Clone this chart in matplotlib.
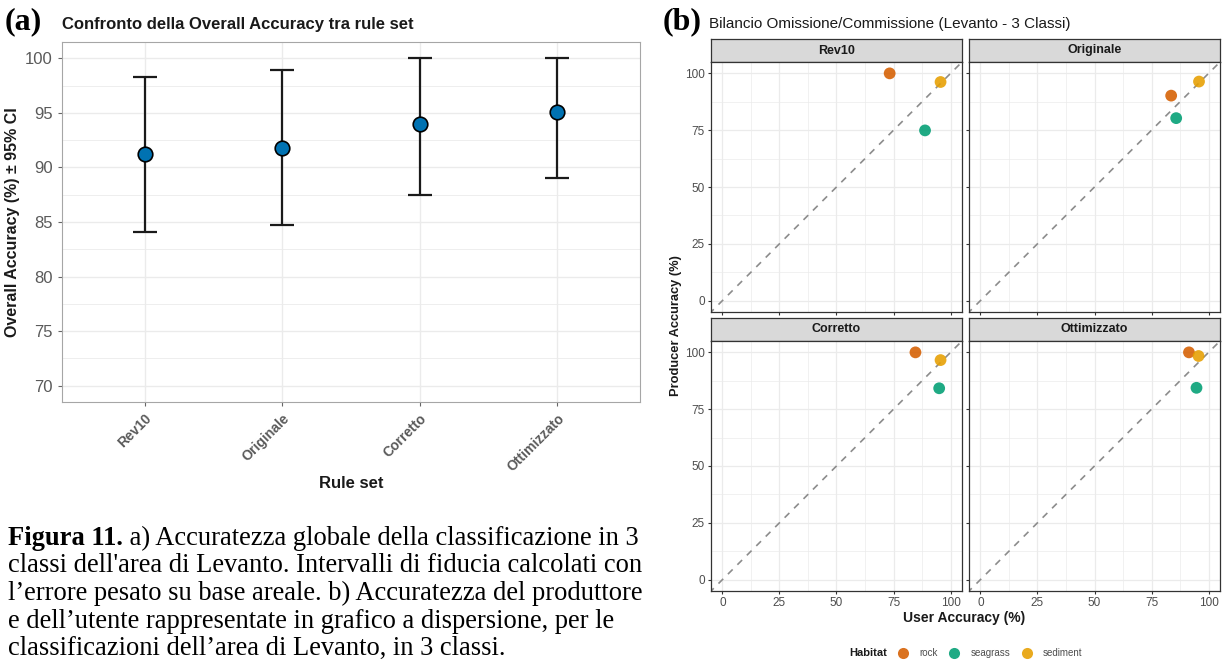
import matplotlib
matplotlib.use("Agg")
import numpy as np
from matplotlib import pyplot as plt
from matplotlib.lines import Line2D

# ---- data: panel (a) overall accuracy with 95% CI
rule_sets = ["Rev10", "Originale", "Corretto", "Ottimizzato"]
oa = [91.2, 91.8, 94.0, 95.1]
ci_low = [84.1, 84.7, 87.5, 89.0]
ci_high = [98.3, 98.9, 100.0, 100.0]

# ---- data: panel (b) user / producer accuracy per habitat
habitats = ["rock", "seagrass", "sediment"]
habitat_colors = ["#D55E00", "#009E73", "#E69F00"]
facets = ["Rev10", "Originale", "Corretto", "Ottimizzato"]
user_acc = {
    "Rev10": [73.3, 88.8, 95.6],
    "Originale": [83.6, 85.8, 95.8],
    "Corretto": [84.6, 95.0, 95.6],
    "Ottimizzato": [91.4, 94.7, 95.6],
}
prod_acc = {
    "Rev10": [100.0, 74.9, 96.2],
    "Originale": [90.2, 80.3, 96.4],
    "Corretto": [100.0, 84.2, 96.6],
    "Ottimizzato": [100.0, 84.4, 98.4],
}

caption_bold = "Figura 11."
caption_lines = [
    " a) Accuratezza globale della classificazione in 3",
    "classi dell'area di Levanto. Intervalli di fiducia calcolati con",
    "l\u2019errore pesato su base areale. b) Accuratezza del produttore",
    "e dell\u2019utente rappresentate in grafico a dispersione, per le",
    "classificazioni dell\u2019area di Levanto, in 3 classi.",
]

W, H = 1222, 661
plt.rcParams["font.family"] = ["Liberation Sans", "DejaVu Sans"]
fig = plt.figure(figsize=(W / 100, H / 100), dpi=100)
fig.patch.set_facecolor("white")


def px_axes(l, t, r, b):
    return fig.add_axes([l / W, 1 - b / H, (r - l) / W, (b - t) / H])


def fx(x):
    return x / W


def fy(y):
    return 1 - y / H


GRID = "#EBEBEB"
BORDER = "#A6A6A6"
TICK_TXT = "#5A5A5A"

# ================= panel (a)
ax = px_axes(62, 42, 640, 402)
xpos = np.arange(1, len(rule_sets) + 1)
yerr = [np.array(oa) - np.array(ci_low), np.array(ci_high) - np.array(oa)]
ax.errorbar(xpos, oa, yerr=yerr, fmt="none", ecolor="#1A1A1A", elinewidth=1.6,
            capsize=8.5, capthick=1.6, zorder=3)
ax.scatter(xpos, oa, s=110, facecolor="#0072B2", edgecolor="black",
           linewidth=1.2, zorder=4)
ax.set_xlim(0.4, 4.6)
ax.set_ylim(68.5, 101.5)
ax.set_yticks(np.arange(70, 101, 5))
ax.set_yticks(np.arange(72.5, 100, 5), minor=True)
ax.set_xticks(xpos)
ax.set_xticklabels(rule_sets, rotation=45, ha="right", rotation_mode="anchor",
                   fontsize=10, fontweight="bold", color=TICK_TXT)
ax.tick_params(axis="y", labelsize=12, labelcolor=TICK_TXT, color="#666666", length=3)
ax.tick_params(axis="x", color="#666666", length=3)
ax.tick_params(which="minor", length=0)
ax.grid(True, which="major", color=GRID, lw=1.0)
ax.grid(True, which="minor", axis="y", color=GRID, lw=0.6)
ax.set_axisbelow(True)
for sp in ax.spines.values():
    sp.set_color(BORDER)
ax.set_ylabel("Overall Accuracy (%) \u00b1 95% CI", fontsize=11.5, fontweight="bold",
              color="#1A1A1A", labelpad=4)
ax.set_xlabel("Rule set", fontsize=12, fontweight="bold", color="#1A1A1A", labelpad=2)
fig.text(fx(62), fy(25), "Confronto della Overall Accuracy tra rule set",
         fontsize=12, fontweight="bold", va="center", ha="left", color="#1A1A1A")
fig.text(fx(5), fy(22), "(a)", family="Liberation Serif", fontsize=23,
         fontweight="bold", va="center", ha="left")

# ---- caption (last line kept inside the canvas)
cap_x = 8
cap_base = [545, 572.5, 600, 627.5, 655]
cap_size = 19.1
bt = fig.text(fx(cap_x), fy(cap_base[0]), caption_bold, family="Liberation Serif",
              fontsize=cap_size, fontweight="bold", va="baseline", ha="left")
fig.canvas.draw()
bw = bt.get_window_extent().width
fig.text(fx(cap_x + bw), fy(cap_base[0]), caption_lines[0], family="Liberation Serif",
         fontsize=cap_size, va="baseline", ha="left")
for line, y in zip(caption_lines[1:], cap_base[1:]):
    fig.text(fx(cap_x), fy(y), line, family="Liberation Serif", fontsize=cap_size,
             va="baseline", ha="left")

# ================= panel (b)
cols = [(711, 962), (969, 1220)]
rows = [(39, 62, 312), (318, 341, 591)]
STRIP = "#D9D9D9"
for i, name in enumerate(facets):
    r, c = divmod(i, 2)
    l, rr = cols[c]
    st, pt, pb = rows[r]
    sax = px_axes(l, st, rr, pt)
    sax.set_facecolor(STRIP)
    sax.set_xticks([])
    sax.set_yticks([])
    for sp in sax.spines.values():
        sp.set_color("#333333")
        sp.set_linewidth(0.9)
    sax.text(0.5, 0.5, name, transform=sax.transAxes, ha="center", va="center",
             fontsize=9, fontweight="bold", color="#1A1A1A")

    pax = px_axes(l, pt, rr, pb)
    pax.plot([-10, 110], [-10, 110], ls=(0, (4, 4)), color="#8C8C8C", lw=1.2, zorder=2)
    for h, col, ux, py in zip(habitats, habitat_colors, user_acc[name], prod_acc[name]):
        pax.scatter(ux, py, s=72, color=col, alpha=0.88, edgecolor="none", zorder=3)
    pax.set_xlim(-5, 105)
    pax.set_ylim(-5, 105)
    pax.set_xticks([0, 25, 50, 75, 100])
    pax.set_yticks([0, 25, 50, 75, 100])
    pax.set_xticks(np.arange(12.5, 100, 25), minor=True)
    pax.set_yticks(np.arange(12.5, 100, 25), minor=True)
    pax.grid(True, which="major", color=GRID, lw=0.9)
    pax.grid(True, which="minor", color=GRID, lw=0.5)
    pax.set_axisbelow(True)
    pax.tick_params(which="minor", length=0)
    pax.tick_params(which="major", length=2.5, color="#333333", labelsize=8.5,
                    labelcolor="#4D4D4D", pad=2)
    if c == 1:
        pax.tick_params(labelleft=False)
    if r == 0:
        pax.tick_params(labelbottom=False)
    for sp in pax.spines.values():
        sp.set_color("#333333")
        sp.set_linewidth(0.9)

fig.text(fx(676), fy(326), "Producer Accuracy (%)", rotation=90, fontsize=9.3,
         fontweight="bold", va="center", ha="center", color="#1A1A1A")
fig.text(fx(964), fy(618), "User Accuracy (%)", fontsize=10,
         fontweight="bold", va="center", ha="center", color="#1A1A1A")
fig.text(fx(709), fy(24), "Bilancio Omissione/Commissione (Levanto - 3 Classi)",
         fontsize=11, va="center", ha="left", color="#1A1A1A")
fig.text(fx(663), fy(22), "(b)", family="Liberation Serif", fontsize=23,
         fontweight="bold", va="center", ha="left")

# legend
fig.text(fx(887), fy(653), "Habitat", fontsize=8, fontweight="bold",
         va="center", ha="right", color="#1A1A1A")
handles = [Line2D([], [], ls="none", marker="o", markersize=8, color=c, alpha=0.88,
                  markeredgewidth=0, label=h) for h, c in zip(habitats, habitat_colors)]
leg = fig.legend(handles=handles, loc="center left", bbox_to_anchor=(fx(898), fy(653)),
                 ncol=3, frameon=False, fontsize=7, handlelength=1.0,
                 handletextpad=1.15, columnspacing=1.25, borderaxespad=0, borderpad=0)
for t in leg.get_texts():
    t.set_color("#4D4D4D")

fig.savefig("out.png", dpi=100)
